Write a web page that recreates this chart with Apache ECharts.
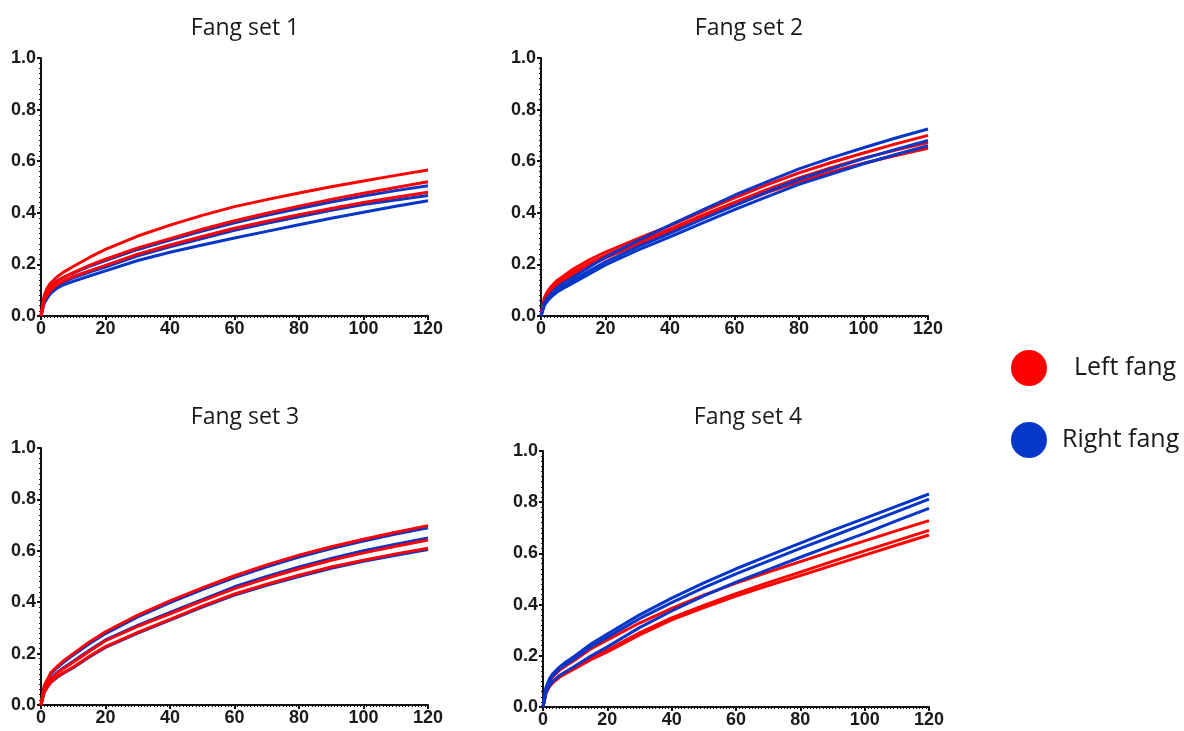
<!DOCTYPE html>
<html>
<head>
<meta charset="utf-8">
<script src="https://cdn.jsdelivr.net/npm/echarts@6/dist/echarts.min.js"></script>
<style>
html,body{margin:0;padding:0;background:#fff;}
#chart{width:1184px;height:731px;}
</style>
</head>
<body>
<div id="chart"></div>
<script>
// ---- data ----
const timePoints = [0, 1, 2, 3, 5, 7, 10, 15, 20, 30, 40, 50, 60, 70, 80, 90, 100, 110, 120];
const xTicks = [0, 20, 40, 60, 80, 100, 120];
const yTicks = [0.0, 0.2, 0.4, 0.6, 0.8, 1.0];
const panelTitles = ['Fang set 1', 'Fang set 2', 'Fang set 3', 'Fang set 4'];
const legendNames = ['Left fang', 'Right fang'];

const set1Left = [
  [0, .08, .11, .128, .152, .17, .192, .227, .258, .31, .352, .39, .424, .451, .477, .501, .523, .545, .566],
  [0, .07, .095, .112, .135, .15, .168, .196, .22, .264, .3, .336, .369, .398, .426, .452, .476, .498, .52],
  [0, .06, .082, .1, .121, .136, .153, .175, .196, .24, .275, .308, .34, .367, .393, .417, .44, .46, .48]
];
const set1Right = [
  [0, .072, .097, .114, .136, .15, .166, .192, .215, .258, .294, .329, .361, .39, .417, .442, .465, .486, .505],
  [0, .058, .08, .097, .118, .132, .148, .17, .19, .233, .268, .3, .332, .359, .385, .41, .432, .45, .467],
  [0, .05, .07, .088, .108, .121, .134, .155, .175, .215, .247, .275, .302, .328, .354, .379, .402, .425, .447]
];
const set2Left = [
  [0, .07, .095, .112, .138, .155, .182, .218, .248, .3, .35, .405, .458, .508, .555, .595, .632, .667, .70],
  [0, .065, .088, .104, .128, .145, .17, .205, .235, .287, .337, .39, .44, .49, .535, .575, .612, .643, .672],
  [0, .06, .082, .097, .12, .136, .16, .195, .225, .278, .328, .38, .43, .478, .52, .558, .592, .622, .65]
];
const set2Right = [
  [0, .05, .07, .085, .11, .128, .15, .19, .228, .292, .352, .41, .468, .52, .57, .613, .652, .69, .725],
  [0, .045, .063, .078, .1, .116, .138, .175, .21, .268, .32, .375, .428, .48, .53, .57, .61, .646, .68],
  [0, .04, .058, .072, .093, .108, .128, .163, .198, .255, .307, .36, .412, .462, .51, .55, .59, .626, .66]
];
const set3Left = [
  [0, .075, .1, .125, .15, .172, .2, .245, .285, .35, .405, .456, .503, .545, .583, .616, .645, .672, .698],
  [0, .06, .081, .1, .124, .142, .166, .209, .25, .306, .355, .405, .453, .493, .53, .563, .592, .618, .642],
  [0, .05, .07, .088, .11, .126, .148, .19, .227, .283, .333, .385, .432, .47, .505, .537, .563, .588, .61]
];
const set3Right = [
  [0, .07, .095, .12, .145, .166, .194, .238, .278, .343, .398, .449, .496, .538, .576, .609, .638, .665, .69],
  [0, .06, .082, .102, .126, .145, .17, .213, .253, .31, .36, .41, .46, .5, .537, .57, .6, .626, .65],
  [0, .05, .07, .087, .108, .124, .145, .187, .224, .28, .33, .381, .428, .466, .5, .532, .559, .583, .605]
];
const set4Left = [
  [0, .075, .1, .118, .142, .16, .185, .228, .262, .328, .385, .437, .484, .527, .568, .609, .649, .689, .728],
  [0, .06, .083, .098, .12, .135, .157, .193, .222, .29, .348, .397, .443, .486, .527, .569, .61, .65, .69],
  [0, .057, .079, .094, .115, .13, .151, .186, .215, .282, .34, .388, .433, .474, .513, .553, .593, .633, .672]
];
const set4Right = [
  [0, .08, .11, .13, .155, .175, .2, .247, .285, .36, .425, .485, .54, .59, .64, .69, .737, .785, .832],
  [0, .075, .103, .122, .147, .166, .19, .236, .273, .345, .408, .466, .52, .57, .62, .667, .715, .763, .812],
  [0, .06, .083, .1, .122, .138, .16, .2, .235, .31, .375, .434, .488, .537, .585, .632, .678, .728, .776]
];

const leftSets = [set1Left, set2Left, set3Left, set4Left];
const rightSets = [set1Right, set2Right, set3Right, set4Right];

// ---- layout ----
const RED = '#ff0000';
const BLUE = '#0636c8';
const grids = [
  {left: 41, top: 58, width: 387, height: 258},
  {left: 541, top: 58, width: 387, height: 258},
  {left: 41, top: 448, width: 387, height: 257},
  {left: 543, top: 451, width: 386, height: 256}
];
const titlePos = [
  {x: 245, y: 28}, {x: 749, y: 28}, {x: 245, y: 417}, {x: 748, y: 417}
];

const labelFont = {fontFamily: 'Liberation Sans, Arial, sans-serif', fontWeight: 'bold', fontSize: 18, color: '#1a1a1a'};
const axisLine = {show: true, onZero: false, lineStyle: {color: '#111', width: 2}};

const xAxes = grids.map((g, i) => ({
  type: 'value', gridIndex: i, min: xTicks[0], max: xTicks[xTicks.length - 1], interval: 20,
  axisLine: axisLine,
  axisTick: {show: true, length: 4, lineStyle: {color: '#111', width: 2}},
  minorTick: {show: true, splitNumber: 20, length: 2, lineStyle: {color: '#111', width: 1}},
  splitLine: {show: false},
  axisLabel: Object.assign({margin: 4}, labelFont)
}));
const yAxes = grids.map((g, i) => ({
  type: 'value', gridIndex: i, min: yTicks[0], max: yTicks[yTicks.length - 1], interval: 0.2,
  axisLine: axisLine,
  axisTick: {show: true, length: 4, lineStyle: {color: '#111', width: 2}},
  minorTick: {show: true, splitNumber: 10, length: 2, lineStyle: {color: '#111', width: 1}},
  splitLine: {show: false},
  axisLabel: Object.assign({margin: 5, formatter: v => v.toFixed(1)}, labelFont)
}));

const series = [];
function addSeries(panel, curves, name, color) {
  curves.forEach(vals => {
    series.push({
      type: 'line', name: name, xAxisIndex: panel, yAxisIndex: panel,
      data: timePoints.map((t, k) => [t, vals[k]]),
      showSymbol: false, symbol: 'circle', symbolSize: 0,
      smooth: false,
      lineStyle: {color: color, width: 3, join: 'round'}, itemStyle: {color: color},
      silent: true, animation: false
    });
  });
}
for (let p = 0; p < 4; p++) {
  if (p === 1 || p === 3) {
    addSeries(p, leftSets[p], legendNames[0], RED);
    addSeries(p, rightSets[p], legendNames[1], BLUE);
  } else {
    addSeries(p, rightSets[p], legendNames[1], BLUE);
    addSeries(p, leftSets[p], legendNames[0], RED);
  }
}

const chart = echarts.init(document.getElementById('chart'), null, {renderer: 'canvas'});
chart.setOption({
  animation: false,
  backgroundColor: '#ffffff',
  graphic: panelTitles.map((t, i) => ({
    type: 'text', x: titlePos[i].x, y: titlePos[i].y,
    style: {
      text: t, align: 'center', verticalAlign: 'middle',
      fontFamily: 'Open Sans, sans-serif', fontSize: 23, fill: '#1a1a1a'
    }
  })),
  legend: {
    data: [
      {name: legendNames[0], itemStyle: {color: RED}},
      {name: legendNames[1], itemStyle: {color: BLUE}}
    ],
    orient: 'vertical', left: 1006, top: 345,
    icon: 'circle', itemWidth: 36, itemHeight: 36, itemGap: 36,
    selectedMode: false,
    formatter: n => n === legendNames[0] ? '{a|' + n + '}' : '{b|' + n + '}',
    textStyle: {
      fontFamily: 'Open Sans, sans-serif', fontSize: 25, color: '#1a1a1a',
      rich: {
        a: {fontFamily: 'Open Sans, sans-serif', fontSize: 25, color: '#1a1a1a', padding: [0, 0, 0, 22]},
        b: {fontFamily: 'Open Sans, sans-serif', fontSize: 25, color: '#1a1a1a', padding: [0, 0, 0, 10]}
      }
    }
  },
  grid: grids,
  xAxis: xAxes,
  yAxis: yAxes,
  series: series
});
</script>
</body>
</html>
